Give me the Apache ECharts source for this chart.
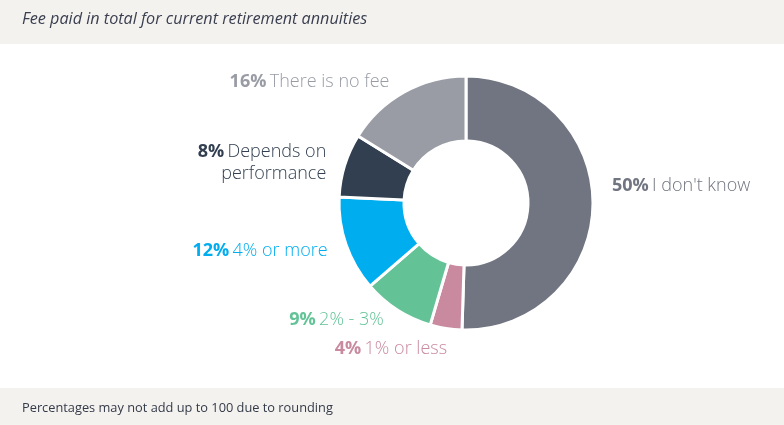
<!DOCTYPE html>
<html><head><meta charset="utf-8">
<script src="https://cdn.jsdelivr.net/npm/echarts@6/dist/echarts.min.js"></script>
<style>html,body{margin:0;padding:0;background:#fff}#c{width:784px;height:425px}</style>
</head><body><div id="c"></div>
<script>
var categories = ["I don't know", "1% or less", "2% - 3%", "4% or more", "Depends on\nperformance", "There is no fee"];
var values = [50, 4, 9, 12, 8, 16];
var colors = ["#717581", "#c98aa0", "#63c397", "#00adef", "#313f50", "#999ca5"];
var titleText = "Fee paid in total for current retirement annuities";
var footnote = "Percentages may not add up to 100 due to rounding";

var chart = echarts.init(document.getElementById('c'));
var data = categories.map(function (c, i) {
  return {
    name: c, value: values[i],
    itemStyle: { color: colors[i] },
    label: { color: colors[i], rich: {
      b: { fontWeight: 'bold', color: colors[i], fontSize: 18, fontFamily: 'Open Sans' },
      n: { color: colors[i], fontSize: 18, fontWeight: 300, fontFamily: 'Open Sans', lineHeight: 22 } } }
  };
});
var nudge = { 0: [-4, -19], 1: [14, 9], 2: [4, 0], 3: [4, 2], 4: [4, 1], 5: [2, 0] };
chart.setOption({
  animation: false,
  backgroundColor: '#fff',
  graphic: [
    { type: 'rect', left: 0, top: 0, shape: { width: 784, height: 44 }, style: { fill: '#f4f2ef' }, silent: true, z: -10 },
    { type: 'rect', left: 0, top: 388, shape: { width: 784, height: 37 }, style: { fill: '#f4f2ef' }, silent: true, z: -10 },
    { type: 'text', left: 22, top: 402, style: { text: footnote, font: '12.8px "Open Sans"', fill: '#333a48' } }
  ],
  title: {
    text: titleText, left: 17, top: 6,
    textStyle: { fontFamily: 'Open Sans', fontStyle: 'italic', fontWeight: 'normal', fontSize: 16.2, color: '#3a3f50' }
  },
  series: [{
    type: 'pie',
    center: [466, 203],
    radius: [62, 127],
    startAngle: 90,
    clockwise: true,
    data: data,
    itemStyle: { borderColor: '#fff', borderWidth: 3 },
    label: {
      show: true, position: 'outside',
      formatter: function (p) {
        var parts = p.name.split('\n');
        var s = '{b|' + p.value + '%} {n|' + parts[0] + '}';
        for (var i = 1; i < parts.length; i++) s += '\n{n|' + parts[i] + '}';
        return s;
      }
    },
    labelLine: { show: false, length: 12, length2: 6 },
    labelLayout: function (p) {
      var d = nudge[p.dataIndex] || [0, 0];
      return { dx: d[0], dy: d[1] };
    }
  }]
});
</script></body></html>
